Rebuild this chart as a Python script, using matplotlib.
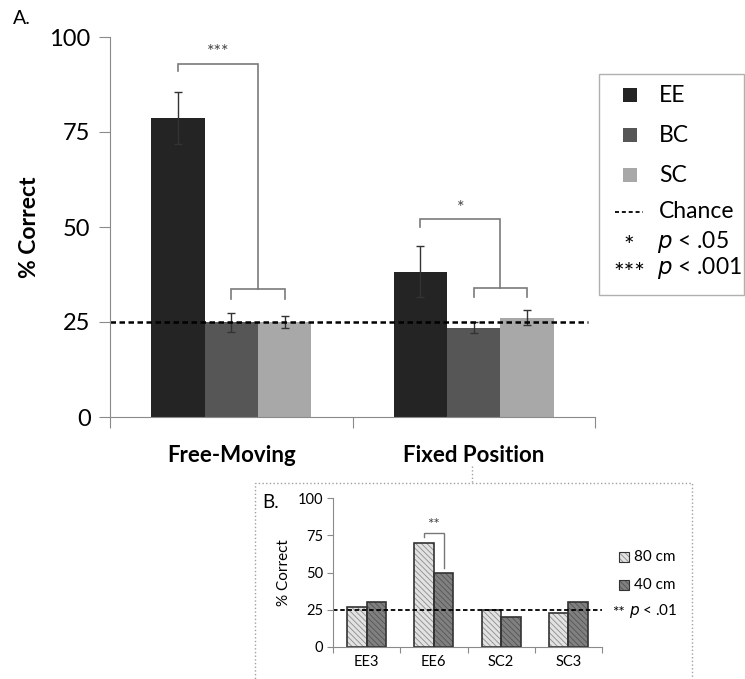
import matplotlib
matplotlib.use('Agg')
import matplotlib.pyplot as plt
from matplotlib.patches import Rectangle
from matplotlib.lines import Line2D

plt.rcParams['font.family'] = ['Lato', 'DejaVu Sans']
plt.rcParams['hatch.linewidth'] = 0.6

# main chart data
conditions = ['Free-Moving', 'Fixed Position']
groups = ['EE', 'BC', 'SC']
means = {'EE': [78.6, 38.2], 'BC': [25.0, 23.5], 'SC': [25.0, 26.1]}
errors = {'EE': [6.8, 6.7], 'BC': [2.5, 1.5], 'SC': [1.5, 2.0]}
colors = {'EE': '#242424', 'BC': '#565656', 'SC': '#a8a8a8'}
chance = 25

# inset data
rats = ['EE3', 'EE6', 'SC2', 'SC3']
dist80 = [27, 70, 25, 23]
dist40 = [30, 50, 20, 30]

W, H = 745, 679
fig = plt.figure(figsize=(W / 100, H / 100), dpi=100)


def fx(x):
    return x / W


def fy(y):
    return 1 - y / H


def ftext(x, y, s, **kw):
    fig.text(fx(x), fy(y), s, **kw)


# ---------- panel A ----------
ax = fig.add_axes([fx(110), fy(417), fx(595 - 110), (417 - 37) / H])
ax.set_xlim(0, 2)
ax.set_ylim(0, 100)

width = 0.22
offsets = [-width, 0, width]
for g, off in zip(groups, offsets):
    xs = [i + 0.5 + off for i in range(len(conditions))]
    ax.bar(xs, means[g], width=width, color=colors[g], yerr=errors[g],
           error_kw=dict(ecolor='#333333', elinewidth=1, capsize=3, capthick=1))

ax.axhline(chance, xmin=0, xmax=0.985, color='black', lw=1.8, ls=(0, (2.2, 1.4)))

for s in ['top', 'right']:
    ax.spines[s].set_visible(False)
for s in ['left', 'bottom']:
    ax.spines[s].set_color('#8a8a8a')
ax.set_yticks([0, 25, 50, 75, 100])
ax.tick_params(axis='y', direction='out', length=8, color='#8a8a8a', labelsize=17, pad=6)
ax.set_xticks([0, 1, 2])
ax.set_xticklabels([])
ax.tick_params(axis='x', which='major', direction='out', length=8, color='#8a8a8a')
ax.set_xticks([0.5, 1.5], minor=True)
ax.set_xticklabels(conditions, minor=True, fontsize=16, fontweight='bold')
ax.tick_params(axis='x', which='minor', length=0, pad=20)
ax.set_ylabel('% Correct', fontsize=16.5, fontweight='bold', labelpad=7)


def bracket(a, xl, xr, ytop, yl, yr, color='#7a7a7a', lw=1.2):
    a.plot([xl, xl, xr, xr], [yl, ytop, ytop, yr], color=color, lw=lw,
           solid_joinstyle='miter')


# Free-Moving: EE vs (BC, SC)
bracket(ax, 0.5, 0.72, 33.8, 31.0, 31.0)
bracket(ax, 0.28, 0.61, 93.0, 91.0, 33.8)
ax.text(0.445, 94.0, '***', ha='center', va='bottom', fontsize=13, color='#444444')
# Fixed Position: EE vs (BC, SC)
bracket(ax, 1.5, 1.72, 33.9, 31.7, 31.7)
bracket(ax, 1.28, 1.61, 52.0, 50.0, 33.9)
ax.text(1.445, 53.0, '*', ha='center', va='bottom', fontsize=13, color='#444444')

ftext(13, 19, 'A.', fontsize=14, va='center', ha='left')

# legend panel A
fig.add_artist(Rectangle((fx(599), fy(295)), fx(W - 599 - 1), (295 - 74) / H,
                         transform=fig.transFigure, fill=False,
                         edgecolor='#b0b0b0', lw=1))
for g, yy in zip(groups, [95, 135, 175]):
    fig.add_artist(Rectangle((fx(623), fy(yy + 7)), fx(14), 14 / H,
                             transform=fig.transFigure, color=colors[g], lw=0))
    ftext(659, yy, g, fontsize=16.5, va='center')
fig.add_artist(Line2D([fx(615), fx(643)], [fy(212), fy(212)], transform=fig.transFigure,
                      color='black', lw=1.3, ls=(0, (2.2, 1.6))))
ftext(659, 212, 'Chance', fontsize=16.5, va='center')
ftext(629, 246, '*', fontsize=18, va='center', ha='center')
ftext(657, 242, '$\\it{p}$ < .05', fontsize=16.5, va='center')
ftext(629, 273, '***', fontsize=18, va='center', ha='center')
ftext(657, 268, '$\\it{p}$ < .001', fontsize=16.5, va='center')

# ---------- panel B (inset) ----------
fig.add_artist(Rectangle((fx(255), fy(700)), fx(692 - 255), (700 - 483) / H,
                         transform=fig.transFigure, fill=False,
                         edgecolor='#a0a0a0', lw=1, ls=':'))
fig.add_artist(Line2D([fx(472), fx(472)], [fy(466), fy(483)], transform=fig.transFigure,
                      color='#a0a0a0', lw=1, ls=':'))

ax2 = fig.add_axes([fx(333), fy(647), fx(602 - 333), (647 - 498) / H])
ax2.set_xlim(0, 4)
ax2.set_ylim(0, 100)
bw = 0.29
x80 = [i + 0.5 - bw / 2 for i in range(len(rats))]
x40 = [i + 0.5 + bw / 2 for i in range(len(rats))]
hatch = '\\' * 6
ax2.bar(x80, dist80, width=bw, color='#e2e2e2', edgecolor='#8c8c8c', lw=0, hatch=hatch)
ax2.bar(x40, dist40, width=bw, color='#808080', edgecolor='#555555', lw=0, hatch=hatch)
ax2.bar(x80, dist80, width=bw, fill=False, edgecolor='#333333', lw=1.2)
ax2.bar(x40, dist40, width=bw, fill=False, edgecolor='#333333', lw=1.2)
ax2.axhline(chance, color='black', lw=1.3, ls=(0, (2.5, 1.5)))

for s in ['top', 'right']:
    ax2.spines[s].set_visible(False)
for s in ['left', 'bottom']:
    ax2.spines[s].set_color('#8a8a8a')
ax2.set_yticks([0, 25, 50, 75, 100])
ax2.tick_params(axis='y', direction='out', length=4, color='#8a8a8a', labelsize=10.5, pad=3)
ax2.set_xticks([0, 1, 2, 3, 4])
ax2.set_xticklabels([])
ax2.tick_params(axis='x', which='major', direction='out', length=4, color='#8a8a8a')
ax2.set_xticks([0.5, 1.5, 2.5, 3.5], minor=True)
ax2.set_xticklabels(rats, minor=True, fontsize=10.5)
ax2.tick_params(axis='x', which='minor', length=0, pad=6)
ax2.set_ylabel('% Correct', fontsize=11, labelpad=5)

bracket(ax2, x80[1], x40[1], 76.5, 74.0, 53.0, color='#777777', lw=1)
ax2.text(1.5, 77.0, '**', ha='center', va='bottom', fontsize=11, color='#444444')

ftext(262, 502, 'B.', fontsize=13.5, va='center', ha='left')

# legend panel B
for lab, yy, fc, hc in [('80 cm', 557, '#e2e2e2', '#8c8c8c'), ('40 cm', 585, '#808080', '#555555')]:
    fig.add_artist(Rectangle((fx(619), fy(yy + 5)), fx(10), 10 / H,
                             transform=fig.transFigure, facecolor=fc, edgecolor=hc,
                             hatch=hatch, lw=0))
    fig.add_artist(Rectangle((fx(619), fy(yy + 5)), fx(10), 10 / H,
                             transform=fig.transFigure, fill=False, edgecolor='#333333', lw=0.8))
    ftext(634, yy, lab, fontsize=11, va='center')
ftext(612, 613, '**', fontsize=11, va='center')
ftext(629, 611, '$\\it{p}$ < .01', fontsize=11, va='center')

fig.savefig('out.png', dpi=100)
